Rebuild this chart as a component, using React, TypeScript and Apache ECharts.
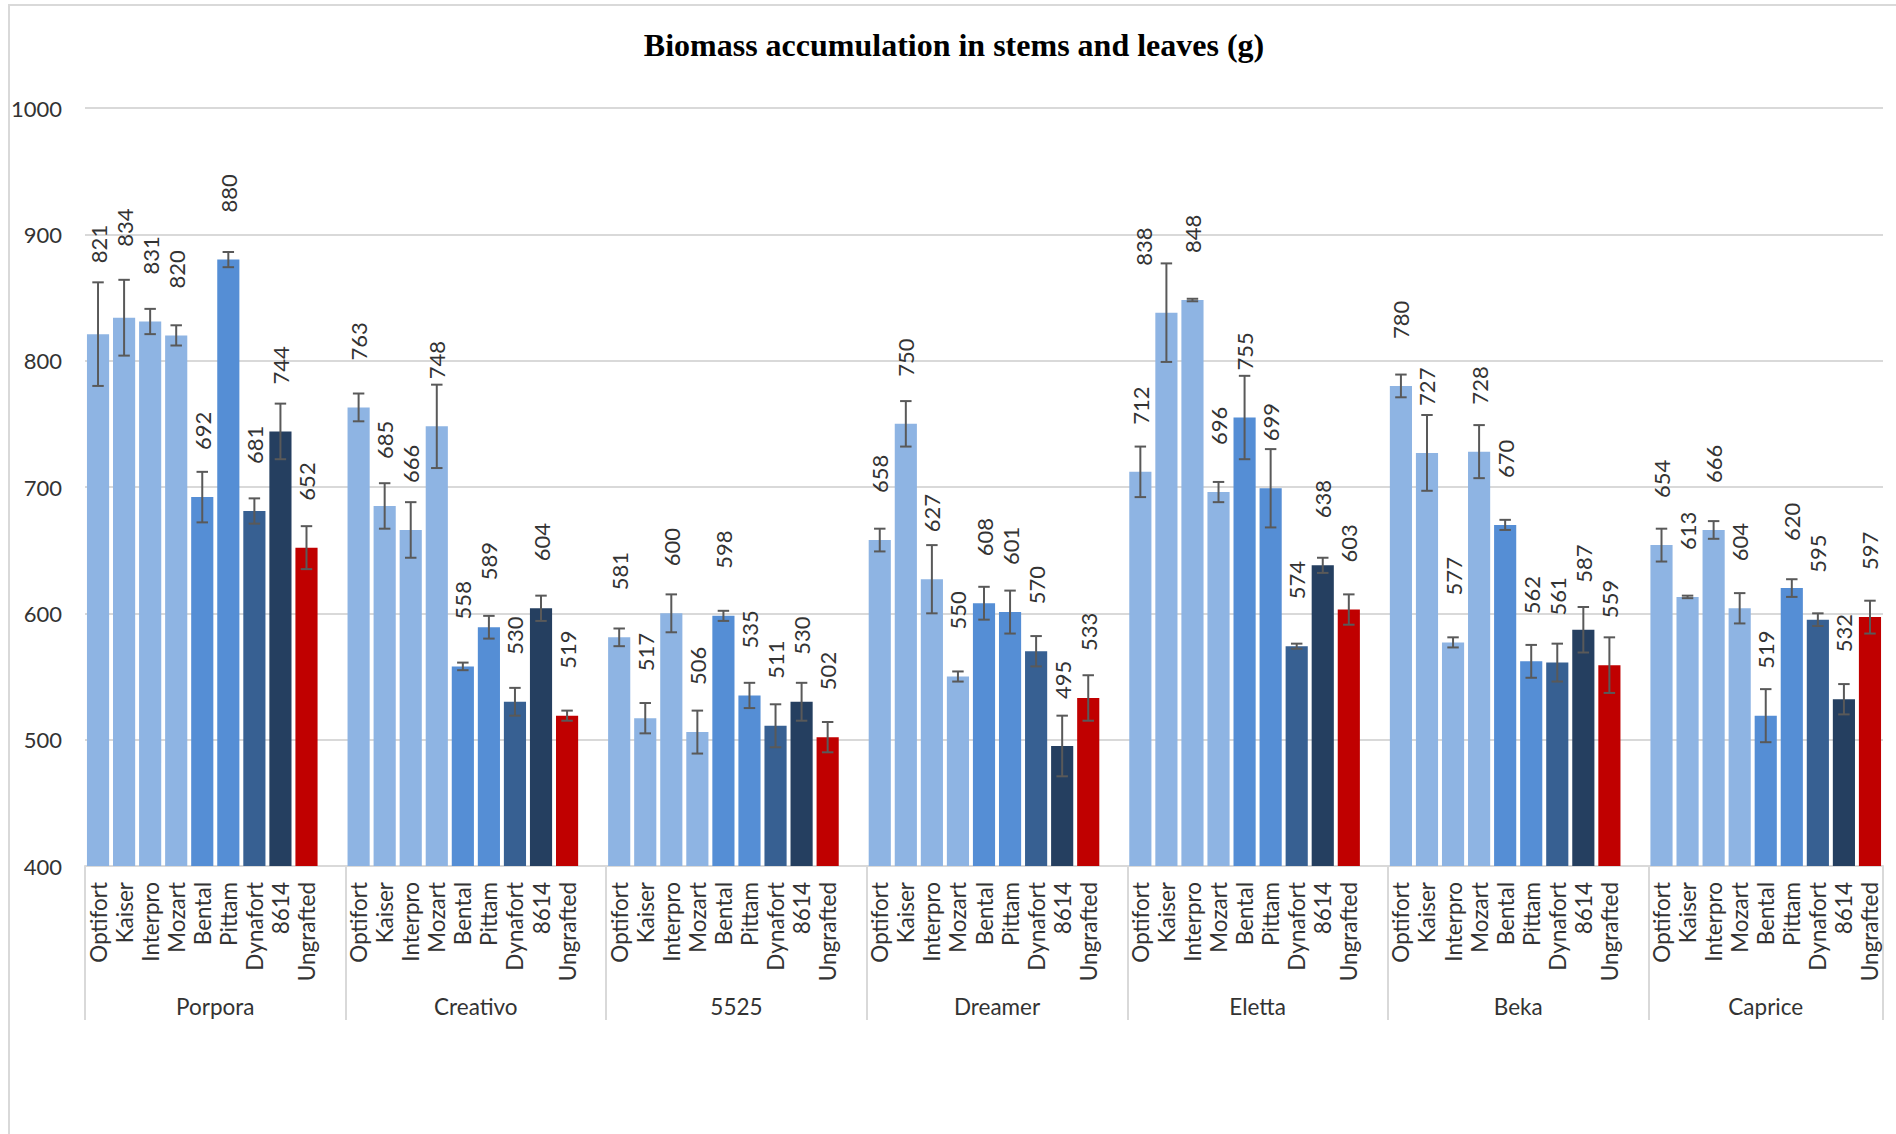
import React, { useEffect, useRef } from "react";
import * as echarts from "echarts";

// ---- data ----
const TITLE = "Biomass accumulation in stems and leaves (g)";
const groups = ["Porpora", "Creativo", "5525", "Dreamer", "Eletta", "Beka", "Caprice"];
const rootstocks = ["Optifort", "Kaiser", "Interpro", "Mozart", "Bental", "Pittam", "Dynafort", "8614", "Ungrafted"];
const yMin = 400;
const yMax = 1000;
const yStep = 100;

const porpora = [821, 834, 831, 820, 692, 880, 681, 744, 652];
const creativo = [763, 685, 666, 748, 558, 589, 530, 604, 519];
const g5525 = [581, 517, 600, 506, 598, 535, 511, 530, 502];
const dreamer = [658, 750, 627, 550, 608, 601, 570, 495, 533];
const eletta = [712, 838, 848, 696, 755, 699, 574, 638, 603];
const beka = [780, 727, 577, 728, 670, 562, 561, 587, 559];
const caprice = [654, 613, 666, 604, 519, 620, 595, 532, 597];

const porporaErr = [41, 30, 10, 8, 20, 6, 10, 22, 17];
const creativoErr = [11, 18, 22, 33, 3, 9, 11, 10, 4];
const g5525Err = [7, 12, 15, 17, 4, 10, 17, 15, 12];
const dreamerErr = [9, 18, 27, 4, 13, 17, 12, 24, 18];
const elettaErr = [20, 39, 1, 8, 33, 31, 2, 6, 12];
const bekaErr = [9, 30, 4, 21, 4, 13, 15, 18, 22];
const capriceErr = [13, 1, 7, 12, 21, 7, 5, 12, 13];

const values = [porpora, creativo, g5525, dreamer, eletta, beka, caprice];
const errors = [porporaErr, creativoErr, g5525Err, dreamerErr, elettaErr, bekaErr, capriceErr];

// ---- styles ----
const COLORS = ["#8EB4E3", "#8EB4E3", "#8EB4E3", "#8EB4E3", "#558ED5", "#558ED5", "#376092", "#253F60", "#C00000"];
const TEXT = "#333333";
const GRID = "#D9D9D9";
const FONT = "Lato";
const LABEL_DIST = 47;
// manual label nudges seen in the reference (extra lift in px, sideways shift in px)
const LABEL_LIFT: Record<string, number> = { "Porpora|Optifort": 24, "Porpora|Kaiser": 24 };
const LABEL_SHIFT: Record<string, number> = { "Eletta|Kaiser": -23 };

export default function App() {
  const ref = useRef<HTMLDivElement>(null);

  useEffect(() => {
    if (!ref.current) return;
    const chart = echarts.init(ref.current, undefined, { renderer: "svg" });

    // slots: 9 bars per group + one empty slot between groups
    const slots: { label: string; gi: number; ri: number }[] = [];
    const groupStart: number[] = [];
    const groupSpan: number[] = [];
    groups.forEach((g, gi) => {
      groupStart.push(slots.length);
      rootstocks.forEach((r, ri) => slots.push({ label: r, gi, ri }));
      if (gi < groups.length - 1) slots.push({ label: "", gi, ri: -1 });
      groupSpan.push(slots.length - groupStart[gi]);
    });
    const N = slots.length;

    const barData = slots.map((s) => {
      if (s.ri < 0) return { value: "-" };
      const key = groups[s.gi] + "|" + rootstocks[s.ri];
      const lift = LABEL_LIFT[key] || 0;
      const shift = LABEL_SHIFT[key] || 0;
      const item: any = {
        value: values[s.gi][s.ri],
        itemStyle: { color: COLORS[s.ri] },
      };
      if (lift || shift) {
        item.label = { distance: LABEL_DIST + lift };
        // offset is rotated with the (90deg) label: a negative y moves it left on screen
        if (shift) item.label.offset = [0, shift];
      }
      return item;
    });

    const errData: number[][] = [];
    slots.forEach((s, i) => {
      if (s.ri < 0) return;
      const v = values[s.gi][s.ri];
      const e = errors[s.gi][s.ri];
      errData.push([i, v - e, v + e]);
    });

    // helper half-slot axis for group labels & separators
    const H = 2 * N + 1;
    const groupAxis: string[] = new Array(H).fill("");
    const boundaries = new Set<number>();
    groups.forEach((g, gi) => {
      const s = 2 * groupStart[gi];
      boundaries.add(s);
      groupAxis[s + groupSpan[gi]] = g;
    });
    boundaries.add(2 * N);

    chart.setOption({
      animation: false,
      backgroundColor: "#ffffff",
      title: {
        text: TITLE,
        left: 954,
        top: 45,
        padding: 0,
        textAlign: "center",
        textVerticalAlign: "middle",
        textStyle: { fontFamily: "Liberation Serif", fontWeight: "bold", fontSize: 32, color: "#000000" },
      },
      graphic: [
        {
          type: "rect",
          silent: true,
          z: -10,
          shape: { x: 9, y: 5, width: 1900, height: 1140 },
          style: { fill: "none", stroke: GRID, lineWidth: 2 },
        },
      ],
      grid: { left: 85, right: 13, top: 108, bottom: 268, containLabel: false },
      xAxis: [
        {
          type: "category",
          data: slots.map((s) => s.label),
          position: "bottom",
          axisLine: { show: true, lineStyle: { color: GRID, width: 2 } },
          axisTick: { show: false },
          axisLabel: {
            interval: 0,
            rotate: 90,
            margin: 16,
            fontFamily: FONT,
            fontSize: 22.5,
            color: TEXT,
          },
          splitLine: { show: false },
        },
        {
          type: "category",
          data: groupAxis,
          position: "bottom",
          boundaryGap: false,
          axisLine: { show: false },
          axisTick: {
            show: true,
            interval: (idx: number) => boundaries.has(idx),
            length: 154,
            lineStyle: { color: GRID, width: 2 },
          },
          axisLabel: {
            interval: 0,
            margin: 129,
            fontFamily: FONT,
            fontSize: 22.5,
            color: TEXT,
          },
          splitLine: { show: false },
        },
      ],
      yAxis: {
        type: "value",
        min: yMin,
        max: yMax,
        interval: yStep,
        axisLine: { show: false },
        axisTick: { show: false },
        axisLabel: {
          margin: 23,
          fontFamily: FONT,
          fontSize: 22,
          color: TEXT,
          formatter: (v: number) => String(v),
        },
        splitLine: { lineStyle: { color: GRID, width: 2 } },
      },
      series: [
        {
          type: "bar",
          xAxisIndex: 0,
          data: barData,
          barCategoryGap: "15%",
          label: {
            show: true,
            position: "top",
            distance: LABEL_DIST,
            rotate: 90,
            align: "left",
            verticalAlign: "middle",
            fontFamily: FONT,
            fontSize: 22,
            color: TEXT,
            formatter: "{c}",
          },
          z: 2,
        },
        {
          type: "custom",
          xAxisIndex: 0,
          data: errData,
          z: 3,
          renderItem: (params: any, api: any) => {
            const x = api.value(0);
            const lo = api.coord([x, api.value(1)]);
            const hi = api.coord([x, api.value(2)]);
            const half = api.size([1, 0])[0] * 0.22;
            const style = { stroke: "#595959", lineWidth: 2 };
            return {
              type: "group",
              children: [
                { type: "line", shape: { x1: lo[0], y1: lo[1], x2: hi[0], y2: hi[1] }, style },
                { type: "line", shape: { x1: hi[0] - half, y1: hi[1], x2: hi[0] + half, y2: hi[1] }, style },
                { type: "line", shape: { x1: lo[0] - half, y1: lo[1], x2: lo[0] + half, y2: lo[1] }, style },
              ],
            };
          },
        },
      ],
    });

    return () => chart.dispose();
  }, []);

  return (
    <div
      ref={ref}
      style={{ position: "absolute", left: 0, top: 0, width: 1896, height: 1134, background: "#fff" }}
    />
  );
}
